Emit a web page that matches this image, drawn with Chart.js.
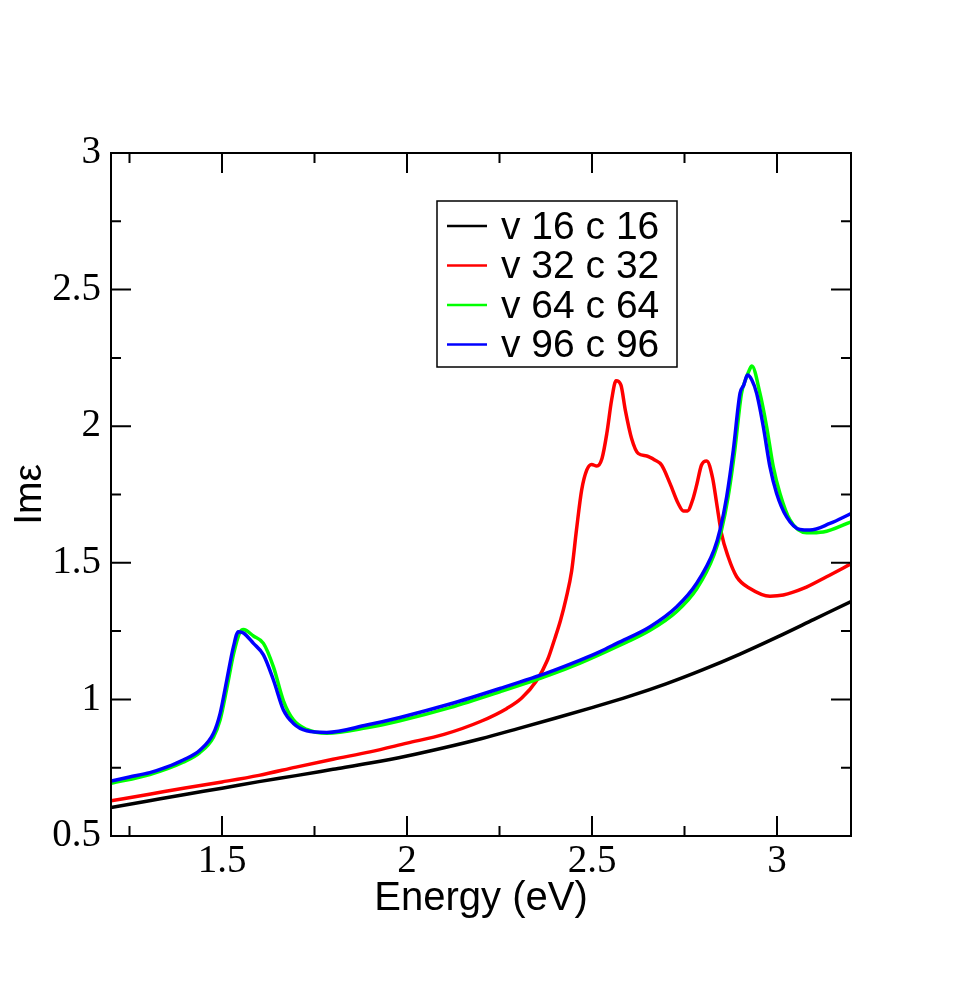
<!DOCTYPE html>
<html>
<head>
<meta charset="utf-8">
<script src="https://cdn.jsdelivr.net/npm/chart.js@4"></script>
<style>
    html, body { margin: 0; padding: 0; background: #fff; }
    #wrap { width: 957px; height: 982px; }
</style>
</head>
<body>
<div id="wrap"><canvas id="chart"></canvas></div>
<script>
const seriesLabels = ['v 16 c 16', 'v 32 c 32', 'v 64 c 64', 'v 96 c 96'];
const seriesColors = ['#000000', '#ff0000', '#00ff00', '#0000ff'];

const blackE = [1.2, 1.3, 1.4, 1.5, 1.6, 1.7, 1.8, 1.9, 2.0, 2.1, 2.2, 2.3, 2.4, 2.5, 2.6, 2.7, 2.8, 2.9, 3.0, 3.1, 3.2];
const blackIm = [0.604, 0.628, 0.652, 0.675, 0.699, 0.721, 0.744, 0.767, 0.793, 0.823, 0.856, 0.893, 0.931, 0.970, 1.011, 1.057, 1.109, 1.166, 1.228, 1.293, 1.358];

const redE = [1.2, 1.3, 1.4, 1.5, 1.6, 1.7, 1.8, 1.9, 2.0, 2.1, 2.2, 2.27, 2.31, 2.35, 2.38, 2.40, 2.415, 2.43, 2.445, 2.458,
    2.472, 2.486, 2.499, 2.513, 2.527, 2.54, 2.553, 2.565, 2.578, 2.59, 2.607, 2.625, 2.648, 2.67, 2.688, 2.711, 2.733, 2.747,
    2.758, 2.772, 2.783, 2.796, 2.81, 2.826, 2.837, 2.85, 2.868, 2.891, 2.927, 2.981, 3.017, 3.071, 3.134, 3.2];
const redIm = [0.629, 0.652, 0.676, 0.698, 0.722, 0.752, 0.781, 0.808, 0.840, 0.872, 0.920, 0.967, 1.005, 1.068, 1.145, 1.225, 1.29, 1.37, 1.47, 1.62,
    1.766, 1.84, 1.86, 1.854, 1.882, 1.973, 2.096, 2.166, 2.151, 2.059, 1.955, 1.900, 1.891, 1.876, 1.858, 1.790, 1.717, 1.690,
    1.690, 1.730, 1.785, 1.858, 1.873, 1.810, 1.717, 1.607, 1.522, 1.449, 1.406, 1.378, 1.382, 1.406, 1.449, 1.496];

const greenE = [1.2, 1.305, 1.395, 1.44, 1.477, 1.495, 1.513, 1.531, 1.548, 1.558, 1.585, 1.612, 1.639, 1.666, 1.693, 1.729, 1.783,
    1.891, 1.981, 2.116, 2.251, 2.386, 2.468, 2.567, 2.657, 2.729, 2.783, 2.83, 2.85, 2.868, 2.886, 2.904, 2.915, 2.925, 2.932,
    2.954, 2.972, 2.990, 3.008, 3.035, 3.080, 3.125, 3.2];
const greenIm = [0.693, 0.725, 0.770, 0.805, 0.862, 0.925, 1.04, 1.165, 1.245, 1.256, 1.232, 1.205, 1.119, 0.995, 0.925, 0.890, 0.876,
    0.896, 0.922, 0.970, 1.028, 1.090, 1.133, 1.193, 1.253, 1.322, 1.405, 1.53, 1.62, 1.742, 1.913, 2.12, 2.17, 2.205, 2.220,
    2.12, 1.998, 1.851, 1.754, 1.657, 1.610, 1.613, 1.650];

const blueE = [1.2, 1.25, 1.305, 1.35, 1.395, 1.44, 1.477, 1.495, 1.513, 1.531, 1.544, 1.558, 1.585, 1.612, 1.639, 1.666, 1.693,
    1.729, 1.783, 1.891, 1.981, 2.116, 2.251, 2.386, 2.468, 2.522, 2.567, 2.657, 2.729, 2.783, 2.83, 2.846, 2.864, 2.882,
    2.9, 2.91, 2.92, 2.932, 2.945, 2.963, 2.981, 2.999, 3.026, 3.062, 3.089, 3.143, 3.2];
const blueIm = [0.701, 0.716, 0.732, 0.752, 0.778, 0.814, 0.876, 0.949, 1.071, 1.193, 1.248, 1.243, 1.205, 1.163, 1.071, 0.961, 0.912,
    0.885, 0.879, 0.906, 0.934, 0.983, 1.040, 1.101, 1.144, 1.175, 1.205, 1.266, 1.339, 1.425, 1.547, 1.620, 1.742, 1.913,
    2.120, 2.150, 2.187, 2.169, 2.120, 1.998, 1.851, 1.754, 1.668, 1.622, 1.620, 1.644, 1.680];

const xTicks = [1.5, 2, 2.5, 3];
const xMinorTicks = [1.25, 1.75, 2.25, 2.75];
const yTicks = [0.5, 1, 1.5, 2, 2.5, 3];
const yMinorTicks = [0.75, 1.25, 1.75, 2.25, 2.75];

function toPoints(xs, ys) {
    return xs.map((x, i) => ({ x: x, y: ys[i] }));
}

const seriesData = [
    toPoints(blackE, blackIm),
    toPoints(redE, redIm),
    toPoints(greenE, greenIm),
    toPoints(blueE, blueIm)
];

// xmgrace style frame with inward ticks on all four sides
const frameTicks = {
    id: 'frameTicks',
    afterDatasetsDraw(chart) {
        const { ctx, chartArea: a, scales: { x, y } } = chart;
        ctx.save();
        ctx.strokeStyle = '#000';
        ctx.lineWidth = 2;
        ctx.strokeRect(a.left, a.top, a.right - a.left, a.bottom - a.top);
        ctx.beginPath();
        const xt = (vals, len) => vals.forEach((v) => {
            const px = x.getPixelForValue(v);
            ctx.moveTo(px, a.bottom); ctx.lineTo(px, a.bottom - len);
            ctx.moveTo(px, a.top); ctx.lineTo(px, a.top + len);
        });
        const yt = (vals, len) => vals.forEach((v) => {
            const py = y.getPixelForValue(v);
            ctx.moveTo(a.left, py); ctx.lineTo(a.left + len, py);
            ctx.moveTo(a.right, py); ctx.lineTo(a.right - len, py);
        });
        xt(xTicks, 20);
        xt(xMinorTicks, 10);
        yt(yTicks, 20);
        yt(yMinorTicks, 10);
        ctx.stroke();
        ctx.restore();
    }
};

const boxLegend = {
    id: 'boxLegend',
    afterDraw(chart) {
        const { ctx, chartArea: a } = chart;
        const left = a.left + 326;
        const top = a.top + 48;
        ctx.save();
        ctx.fillStyle = '#fff';
        ctx.fillRect(left, top, 240, 166);
        ctx.strokeStyle = '#000';
        ctx.lineWidth = 1.5;
        ctx.strokeRect(left, top, 240, 166);
        ctx.font = '39px "Liberation Sans", Arial, sans-serif';
        ctx.textBaseline = 'middle';
        ctx.textAlign = 'left';
        chart.data.datasets.forEach((ds, i) => {
            const cy = top + 26 + i * 39.5;
            ctx.strokeStyle = ds.borderColor;
            ctx.lineWidth = 2.5;
            ctx.beginPath();
            ctx.moveTo(left + 10, cy - 1);
            ctx.lineTo(left + 50, cy - 1);
            ctx.stroke();
            ctx.fillStyle = '#000';
            ctx.fillText(ds.label, left + 64, cy + 1);
        });
        ctx.restore();
    }
};

new Chart(document.getElementById('chart'), {
    type: 'line',
    data: {
        datasets: seriesData.map((pts, i) => ({
            label: seriesLabels[i],
            data: pts,
            borderColor: seriesColors[i],
            backgroundColor: seriesColors[i],
            borderWidth: 3.5,
            pointRadius: 0,
            cubicInterpolationMode: 'monotone',
            order: seriesData.length - i
        }))
    },
    options: {
        responsive: true,
        maintainAspectRatio: false,
        animation: false,
        layout: { padding: { top: 153, right: 106, left: 0, bottom: 0 } },
        plugins: {
            legend: { display: false },
            tooltip: { enabled: false }
        },
        scales: {
            x: {
                type: 'linear',
                min: 1.2,
                max: 3.2,
                grid: { display: false, drawTicks: false },
                border: { display: false },
                afterBuildTicks: (scale) => { scale.ticks = xTicks.map((v) => ({ value: v })); },
                afterFit: (scale) => { scale.height = 146; },
                ticks: {
                    color: '#000',
                    padding: 2,
                    maxRotation: 0,
                    font: { family: '"Liberation Serif", "Times New Roman", serif', size: 39 },
                    callback: (v) => String(v)
                },
                title: {
                    display: true,
                    text: 'Energy (eV)',
                    color: '#000',
                    font: { family: '"Liberation Sans", Arial, sans-serif', size: 40 },
                    padding: { top: 0, bottom: 59 }
                }
            },
            y: {
                min: 0.5,
                max: 3,
                grid: { display: false, drawTicks: false },
                border: { display: false },
                afterBuildTicks: (scale) => { scale.ticks = yTicks.map((v) => ({ value: v })); },
                afterFit: (scale) => { scale.width = 111; },
                ticks: {
                    color: '#000',
                    padding: 10,
                    font: { family: '"Liberation Serif", "Times New Roman", serif', size: 39 },
                    callback: (v) => String(v)
                },
                title: {
                    display: true,
                    text: 'Imε',
                    color: '#000',
                    font: { family: '"Liberation Sans", Arial, sans-serif', size: 39 },
                    padding: { top: 7, bottom: 0 }
                }
            }
        }
    },
    plugins: [frameTicks, boxLegend]
});
</script>
</body>
</html>
